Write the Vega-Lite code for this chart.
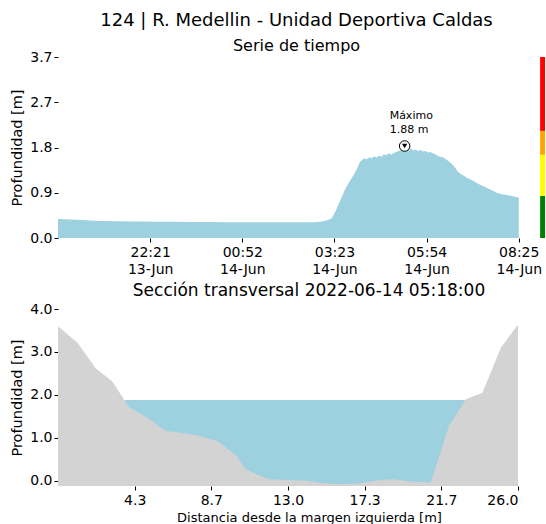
{
  "$schema": "https://vega.github.io/schema/vega-lite/v6.json",
  "padding": {"left": 9, "top": 12, "right": 0, "bottom": 0},
  "config": {
    "font": "DejaVu Sans",
    "view": {"stroke": null},
    "axis": {"domain": false, "grid": false, "ticks": true, "tickColor": "#000", "tickSize": 4, "labelColor": "#000", "labelFontSize": 14, "labelPadding": 2, "titleColor": "#000", "titleFontSize": 14.5, "titleFontWeight": "normal", "labelFont": "DejaVu Sans", "titleFont": "DejaVu Sans"},
    "title": {"color": "#000", "fontWeight": "normal", "subtitleColor": "#000", "font": "DejaVu Sans", "subtitleFont": "DejaVu Sans"}
  },
  "datasets": {
    "serie": [
      {"tiempo": "2022-06-13T19:50:00Z", "profundidad": 0.39},
      {"tiempo": "2022-06-13T20:10:00Z", "profundidad": 0.38},
      {"tiempo": "2022-06-13T20:30:00Z", "profundidad": 0.37},
      {"tiempo": "2022-06-13T20:50:00Z", "profundidad": 0.355},
      {"tiempo": "2022-06-13T21:10:00Z", "profundidad": 0.345},
      {"tiempo": "2022-06-13T21:30:00Z", "profundidad": 0.34},
      {"tiempo": "2022-06-13T22:00:00Z", "profundidad": 0.335},
      {"tiempo": "2022-06-13T22:30:00Z", "profundidad": 0.33},
      {"tiempo": "2022-06-13T23:00:00Z", "profundidad": 0.33},
      {"tiempo": "2022-06-13T23:30:00Z", "profundidad": 0.325},
      {"tiempo": "2022-06-14T00:00:00Z", "profundidad": 0.325},
      {"tiempo": "2022-06-14T00:30:00Z", "profundidad": 0.32},
      {"tiempo": "2022-06-14T01:00:00Z", "profundidad": 0.32},
      {"tiempo": "2022-06-14T01:30:00Z", "profundidad": 0.32},
      {"tiempo": "2022-06-14T02:00:00Z", "profundidad": 0.32},
      {"tiempo": "2022-06-14T02:30:00Z", "profundidad": 0.32},
      {"tiempo": "2022-06-14T02:50:00Z", "profundidad": 0.32},
      {"tiempo": "2022-06-14T03:00:00Z", "profundidad": 0.33},
      {"tiempo": "2022-06-14T03:10:00Z", "profundidad": 0.36},
      {"tiempo": "2022-06-14T03:16:00Z", "profundidad": 0.39},
      {"tiempo": "2022-06-14T03:18:00Z", "profundidad": 0.40},
      {"tiempo": "2022-06-14T03:22:00Z", "profundidad": 0.48},
      {"tiempo": "2022-06-14T03:25:00Z", "profundidad": 0.55},
      {"tiempo": "2022-06-14T03:30:00Z", "profundidad": 0.70},
      {"tiempo": "2022-06-14T03:35:00Z", "profundidad": 0.84},
      {"tiempo": "2022-06-14T03:40:00Z", "profundidad": 0.98},
      {"tiempo": "2022-06-14T03:45:00Z", "profundidad": 1.10},
      {"tiempo": "2022-06-14T03:50:00Z", "profundidad": 1.20},
      {"tiempo": "2022-06-14T03:55:00Z", "profundidad": 1.30},
      {"tiempo": "2022-06-14T04:00:00Z", "profundidad": 1.42},
      {"tiempo": "2022-06-14T04:05:00Z", "profundidad": 1.56},
      {"tiempo": "2022-06-14T04:08:00Z", "profundidad": 1.59},
      {"tiempo": "2022-06-14T04:12:00Z", "profundidad": 1.63},
      {"tiempo": "2022-06-14T04:16:00Z", "profundidad": 1.61},
      {"tiempo": "2022-06-14T04:20:00Z", "profundidad": 1.65},
      {"tiempo": "2022-06-14T04:24:00Z", "profundidad": 1.63},
      {"tiempo": "2022-06-14T04:28:00Z", "profundidad": 1.67},
      {"tiempo": "2022-06-14T04:32:00Z", "profundidad": 1.64},
      {"tiempo": "2022-06-14T04:36:00Z", "profundidad": 1.68},
      {"tiempo": "2022-06-14T04:40:00Z", "profundidad": 1.66},
      {"tiempo": "2022-06-14T04:44:00Z", "profundidad": 1.71},
      {"tiempo": "2022-06-14T04:48:00Z", "profundidad": 1.69},
      {"tiempo": "2022-06-14T04:52:00Z", "profundidad": 1.73},
      {"tiempo": "2022-06-14T04:56:00Z", "profundidad": 1.70},
      {"tiempo": "2022-06-14T05:00:00Z", "profundidad": 1.74},
      {"tiempo": "2022-06-14T05:04:00Z", "profundidad": 1.76},
      {"tiempo": "2022-06-14T05:08:00Z", "profundidad": 1.78},
      {"tiempo": "2022-06-14T05:12:00Z", "profundidad": 1.80},
      {"tiempo": "2022-06-14T05:16:00Z", "profundidad": 1.82},
      {"tiempo": "2022-06-14T05:18:00Z", "profundidad": 1.88},
      {"tiempo": "2022-06-14T05:20:00Z", "profundidad": 1.82},
      {"tiempo": "2022-06-14T05:24:00Z", "profundidad": 1.80},
      {"tiempo": "2022-06-14T05:28:00Z", "profundidad": 1.83},
      {"tiempo": "2022-06-14T05:32:00Z", "profundidad": 1.79},
      {"tiempo": "2022-06-14T05:36:00Z", "profundidad": 1.81},
      {"tiempo": "2022-06-14T05:40:00Z", "profundidad": 1.78},
      {"tiempo": "2022-06-14T05:44:00Z", "profundidad": 1.80},
      {"tiempo": "2022-06-14T05:48:00Z", "profundidad": 1.77},
      {"tiempo": "2022-06-14T05:52:00Z", "profundidad": 1.78},
      {"tiempo": "2022-06-14T05:56:00Z", "profundidad": 1.75},
      {"tiempo": "2022-06-14T06:00:00Z", "profundidad": 1.76},
      {"tiempo": "2022-06-14T06:04:00Z", "profundidad": 1.73},
      {"tiempo": "2022-06-14T06:08:00Z", "profundidad": 1.71},
      {"tiempo": "2022-06-14T06:12:00Z", "profundidad": 1.68},
      {"tiempo": "2022-06-14T06:16:00Z", "profundidad": 1.66},
      {"tiempo": "2022-06-14T06:20:00Z", "profundidad": 1.65},
      {"tiempo": "2022-06-14T06:25:00Z", "profundidad": 1.62},
      {"tiempo": "2022-06-14T06:30:00Z", "profundidad": 1.57},
      {"tiempo": "2022-06-14T06:35:00Z", "profundidad": 1.52},
      {"tiempo": "2022-06-14T06:40:00Z", "profundidad": 1.45},
      {"tiempo": "2022-06-14T06:45:00Z", "profundidad": 1.36},
      {"tiempo": "2022-06-14T06:50:00Z", "profundidad": 1.31},
      {"tiempo": "2022-06-14T06:55:00Z", "profundidad": 1.27},
      {"tiempo": "2022-06-14T07:00:00Z", "profundidad": 1.23},
      {"tiempo": "2022-06-14T07:10:00Z", "profundidad": 1.17},
      {"tiempo": "2022-06-14T07:20:00Z", "profundidad": 1.10},
      {"tiempo": "2022-06-14T07:30:00Z", "profundidad": 1.04},
      {"tiempo": "2022-06-14T07:40:00Z", "profundidad": 0.98},
      {"tiempo": "2022-06-14T07:50:00Z", "profundidad": 0.92},
      {"tiempo": "2022-06-14T08:00:00Z", "profundidad": 0.89},
      {"tiempo": "2022-06-14T08:10:00Z", "profundidad": 0.87},
      {"tiempo": "2022-06-14T08:20:00Z", "profundidad": 0.84},
      {"tiempo": "2022-06-14T08:25:00Z", "profundidad": 0.83}
    ],
    "umbrales": [
      {"nivel": "normal", "bajo": 0.0, "alto": 0.86},
      {"nivel": "alerta amarilla", "bajo": 0.86, "alto": 1.70},
      {"nivel": "alerta naranja", "bajo": 1.70, "alto": 2.19},
      {"nivel": "alerta roja", "bajo": 2.19, "alto": 3.7}
    ],
    "maximo": [
      {"tiempo": "2022-06-14T05:18:00Z", "profundidad": 1.88, "etiqueta": "Máximo\n1.88 m"}
    ],
    "terreno": [
      {"distancia": 0.0, "cota": 3.60},
      {"distancia": 1.09, "cota": 3.22},
      {"distancia": 2.13, "cota": 2.62},
      {"distancia": 3.07, "cota": 2.31},
      {"distancia": 4.01, "cota": 1.72},
      {"distancia": 5.05, "cota": 1.47},
      {"distancia": 6.09, "cota": 1.16},
      {"distancia": 6.94, "cota": 1.12},
      {"distancia": 7.97, "cota": 1.05},
      {"distancia": 9.0, "cota": 0.93},
      {"distancia": 10.05, "cota": 0.60},
      {"distancia": 10.61, "cota": 0.27},
      {"distancia": 11.18, "cota": 0.16},
      {"distancia": 11.93, "cota": 0.04},
      {"distancia": 13.0, "cota": 0.02},
      {"distancia": 14.0, "cota": 0.0},
      {"distancia": 14.94, "cota": -0.05},
      {"distancia": 15.7, "cota": -0.08},
      {"distancia": 17.02, "cota": -0.06},
      {"distancia": 18.15, "cota": 0.02},
      {"distancia": 18.99, "cota": 0.04},
      {"distancia": 20.03, "cota": -0.02},
      {"distancia": 21.07, "cota": -0.04},
      {"distancia": 22.1, "cota": 1.28},
      {"distancia": 23.05, "cota": 1.90},
      {"distancia": 23.99, "cota": 2.05},
      {"distancia": 25.03, "cota": 3.10},
      {"distancia": 26.0, "cota": 3.64}
    ],
    "agua": [
      {"distancia": 3.73, "nivel": 1.88},
      {"distancia": 23.03, "nivel": 1.88}
    ]
  },
  "spacing": 6,
  "vconcat": [
    {
      "width": 487,
      "height": 181,
      "title": {"text": "124 | R. Medellin - Unidad Deportiva Caldas", "subtitle": "Serie de tiempo", "fontSize": 18, "subtitleFontSize": 16, "subtitlePadding": 8, "anchor": "middle", "dx": -5, "offset": -4},
      "layer": [
        {
          "data": {"name": "serie"},
          "mark": {"type": "area", "color": "#9dd1e0"},
          "encoding": {
            "x": {
              "field": "tiempo", "type": "temporal",
              "scale": {"type": "utc", "domain": [
                {"year": 2022, "month": 6, "date": 13, "hours": 19, "minutes": 50, "utc": true},
                {"year": 2022, "month": 6, "date": 14, "hours": 9, "minutes": 8, "utc": true}
              ]},
              "axis": {
                "title": null,
                "values": [
                  {"year": 2022, "month": 6, "date": 13, "hours": 22, "minutes": 21, "utc": true},
                  {"year": 2022, "month": 6, "date": 14, "hours": 0, "minutes": 52, "utc": true},
                  {"year": 2022, "month": 6, "date": 14, "hours": 3, "minutes": 23, "utc": true},
                  {"year": 2022, "month": 6, "date": 14, "hours": 5, "minutes": 54, "utc": true},
                  {"year": 2022, "month": 6, "date": 14, "hours": 8, "minutes": 25, "utc": true}
                ],
                "labelExpr": "[utcFormat(datum.value, '%H:%M'), utcFormat(datum.value, '%d-%b')]",
                "labelLineHeight": 17,
                "labelPadding": 3
              }
            },
            "y": {
              "field": "profundidad", "type": "quantitative",
              "scale": {"domain": [0, 3.7], "nice": false},
              "axis": {"title": "Profundidad [m]", "values": [0, 0.925, 1.85, 2.775, 3.7], "labelExpr": "format(floor(datum.value * 10 + 0.000001) / 10, '.1f')", "titlePadding": 5}
            }
          }
        },
        {
          "data": {"name": "umbrales"},
          "mark": {"type": "rect"},
          "encoding": {
            "x": {"datum": {"year": 2022, "month": 6, "date": 14, "hours": 9, "minutes": 0, "utc": true}, "type": "temporal"},
            "x2": {"datum": {"year": 2022, "month": 6, "date": 14, "hours": 9, "minutes": 8, "utc": true}},
            "y": {"field": "bajo", "type": "quantitative"},
            "y2": {"field": "alto"},
            "color": {"field": "nivel", "type": "nominal", "scale": {"domain": ["normal", "alerta amarilla", "alerta naranja", "alerta roja"], "range": ["#008000", "#ffff00", "#ffa500", "#ff0000"]}, "legend": null}
          }
        },
        {
          "data": {"name": "maximo"},
          "mark": {"type": "point", "shape": "circle", "filled": true, "fill": "white", "stroke": "black", "strokeWidth": 1, "size": 110, "opacity": 1},
          "encoding": {
            "x": {"field": "tiempo", "type": "temporal"},
            "y": {"field": "profundidad", "type": "quantitative"}
          }
        },
        {
          "data": {"name": "maximo"},
          "mark": {"type": "point", "shape": "triangle-down", "filled": true, "color": "black", "size": 28, "opacity": 1},
          "encoding": {
            "x": {"field": "tiempo", "type": "temporal"},
            "y": {"field": "profundidad", "type": "quantitative"}
          }
        },
        {
          "data": {"name": "maximo"},
          "mark": {"type": "text", "align": "left", "baseline": "bottom", "dx": -15, "dy": -25, "fontSize": 11, "lineBreak": "\n", "lineHeight": 14, "color": "#000"},
          "encoding": {
            "x": {"field": "tiempo", "type": "temporal"},
            "y": {"field": "profundidad", "type": "quantitative"},
            "text": {"field": "etiqueta", "type": "nominal"}
          }
        }
      ]
    },
    {
      "width": 460,
      "height": 177,
      "title": {"text": "Sección transversal 2022-06-14 05:18:00", "fontSize": 17, "anchor": "middle", "dx": 21, "offset": 2},
      "layer": [
        {
          "data": {"name": "agua"},
          "mark": {"type": "area", "color": "#9dd1e0"},
          "encoding": {
            "x": {"field": "distancia", "type": "quantitative"},
            "y": {"field": "nivel", "type": "quantitative"},
            "y2": {"datum": -0.12}
          }
        },
        {
          "data": {"name": "terreno"},
          "mark": {"type": "area", "color": "#d3d3d3"},
          "encoding": {
            "x": {
              "field": "distancia", "type": "quantitative",
              "scale": {"domain": [0, 26], "nice": false, "zero": false},
              "axis": {"title": "Distancia desde la margen izquierda [m]", "titleFontSize": 13, "values": [4.3333, 8.6667, 13, 17.3333, 21.6667, 26], "format": ".1f", "titleX": 251, "titleAlign": "center", "titlePadding": 4, "labelPadding": 3}
            },
            "y": {
              "field": "cota", "type": "quantitative",
              "scale": {"domain": [-0.12, 4.0], "nice": false, "zero": false},
              "axis": {"title": "Profundidad [m]", "values": [0, 1, 2, 3, 4], "format": ".1f", "titlePadding": 5}
            },
            "y2": {"datum": -0.12}
          }
        }
      ]
    }
  ]
}
